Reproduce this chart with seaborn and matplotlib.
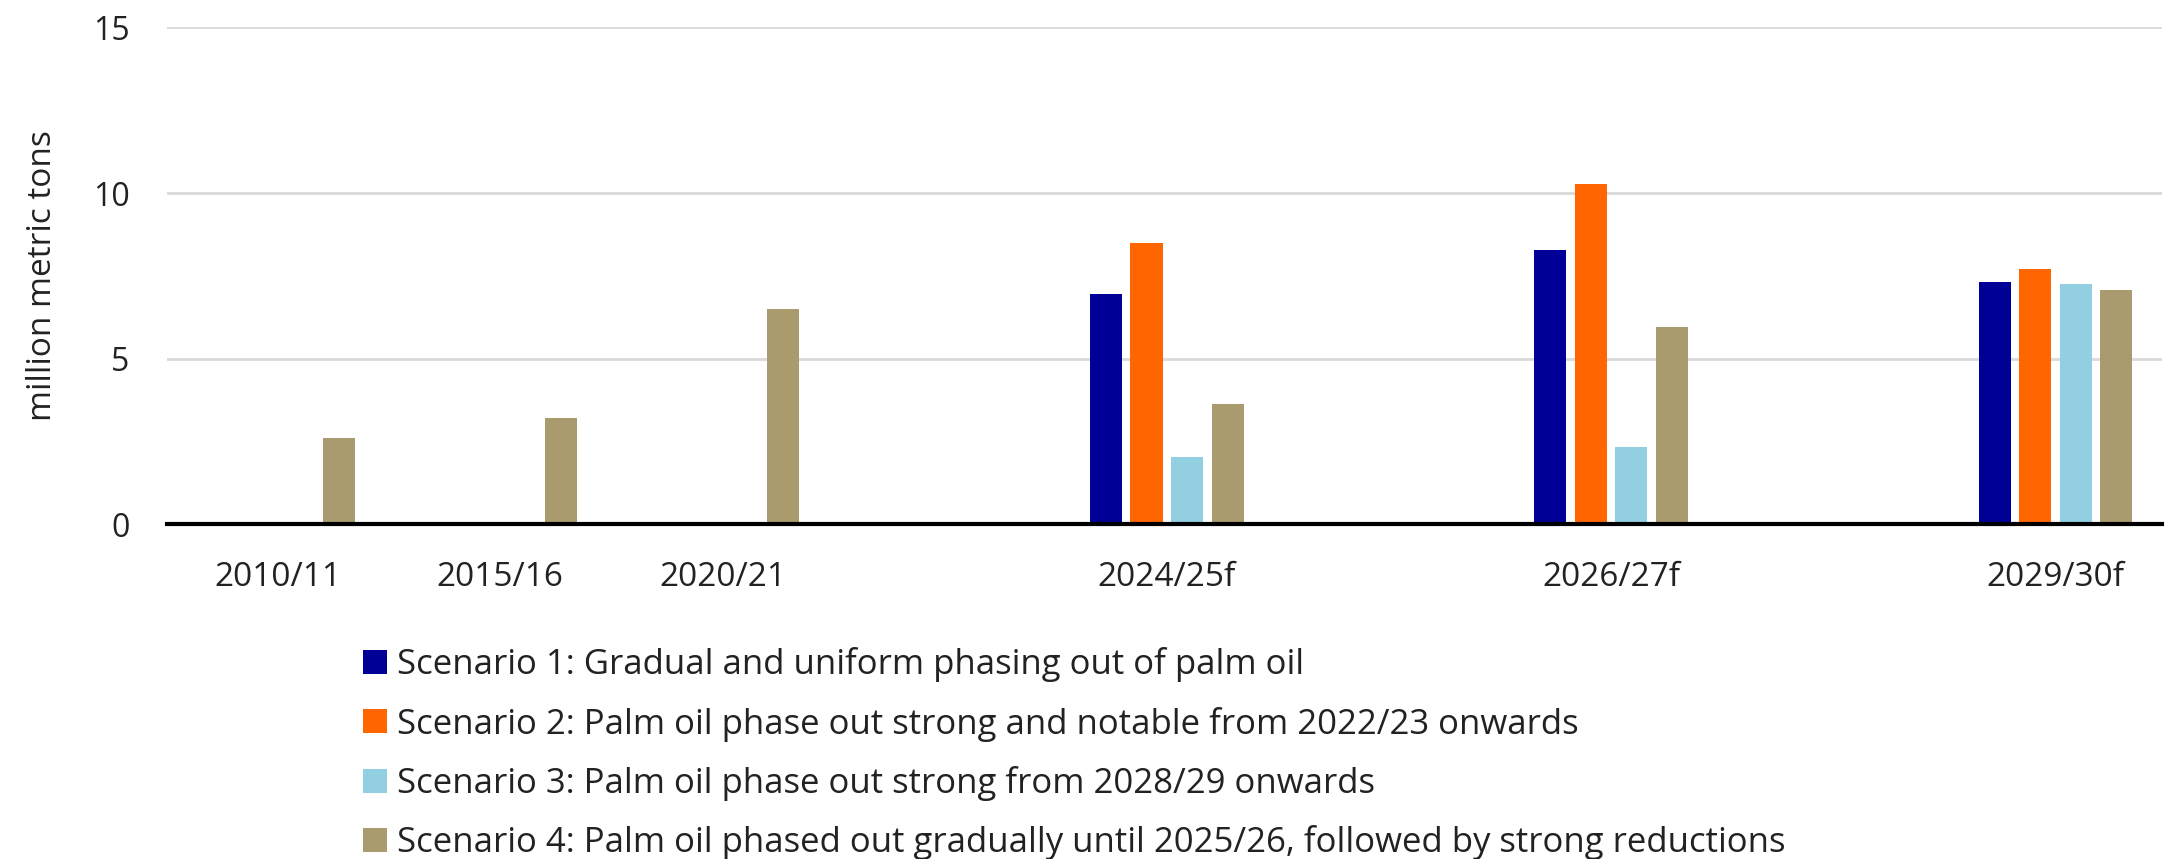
import numpy as np
import pandas as pd
import matplotlib
matplotlib.use('Agg')
import matplotlib.pyplot as plt
import seaborn as sns

# ==================================================
# DATA (million metric tons)
# ==================================================

years = ['2010/11', '2015/16', '2020/21', '2024/25f', '2026/27f', '2029/30f']

scenarios = [
    'Scenario 1: Gradual and uniform phasing out of palm oil',
    'Scenario 2: Palm oil phase out strong and notable from 2022/23 onwards',
    'Scenario 3: Palm oil phase out strong from 2028/29 onwards',
    'Scenario 4: Palm oil phased out gradually until 2025/26, followed by strong reductions',
]

s1 = [np.nan, np.nan, np.nan, 6.96, 8.29, 7.33]
s2 = [np.nan, np.nan, np.nan, 8.50, 10.29, 7.71]
s3 = [np.nan, np.nan, np.nan, 2.04, 2.33, 7.25]
s4 = [2.60, 3.21, 6.51, 3.62, 5.96, 7.08]

colors = ['#000096', '#FF6600', '#92D0E1', '#AA9B6E']

# empty slots in front of the forecast years (they sit further apart)
order = ['2010/11', '2015/16', '2020/21', 'gap1', '2024/25f',
         'gap2', '2026/27f', 'gap3', '2029/30f']

# ==================================================
# LONG TABLE
# ==================================================

df = pd.DataFrame({
    'year': years * 4,
    'scenario': np.repeat(scenarios, len(years)),
    'value': s1 + s2 + s3 + s4,
}).dropna()

# ==================================================
# PLOT
# ==================================================

sns.set_theme(style='white')
plt.rcParams['font.family'] = ['Open Sans', 'DejaVu Sans']

fig = plt.figure(figsize=(21.66, 8.59), dpi=100)
ax = fig.add_axes([0.0771, 0.3895, 0.9211, 0.5785])

sns.barplot(data=df, x='year', y='value', hue='scenario',
            order=order, hue_order=scenarios,
            palette=dict(zip(scenarios, colors)),
            width=0.73, gap=0.21, saturation=1, errorbar=None,
            linewidth=0, ax=ax)

ax.set_ylim(0, 15)
ax.set_xlim(-0.5, 8.48)
ax.set_yticks([0, 5, 10, 15])
ax.set_xticks(range(len(order)))
ax.set_xticklabels([c if c in years else '' for c in order])

ax.yaxis.grid(True, color='#D9D9D9', linewidth=2)
ax.set_axisbelow(True)
for s in ['top', 'right', 'left']:
    ax.spines[s].set_visible(False)
ax.spines['bottom'].set_color('black')
ax.spines['bottom'].set_linewidth(3)

ax.tick_params(axis='x', length=0, pad=26, labelsize=24, labelcolor='#222222')
ax.tick_params(axis='y', length=0, pad=27, labelsize=23, labelcolor='#222222')
ax.set_xlabel('')
ax.set_ylabel('million metric tons', fontsize=24, color='#222222', labelpad=24)

sns.move_legend(ax, 'upper left', bbox_to_anchor=(0.1676, 0.2465),
                bbox_transform=fig.transFigure, frameon=False, title=None,
                fontsize=25, handlelength=0.69, handleheight=0.69,
                handletextpad=0.3, labelspacing=0.7,
                borderpad=0, borderaxespad=0)
for t in ax.get_legend().get_texts():
    t.set_color('#222222')

fig.savefig('out.png', dpi=100)
